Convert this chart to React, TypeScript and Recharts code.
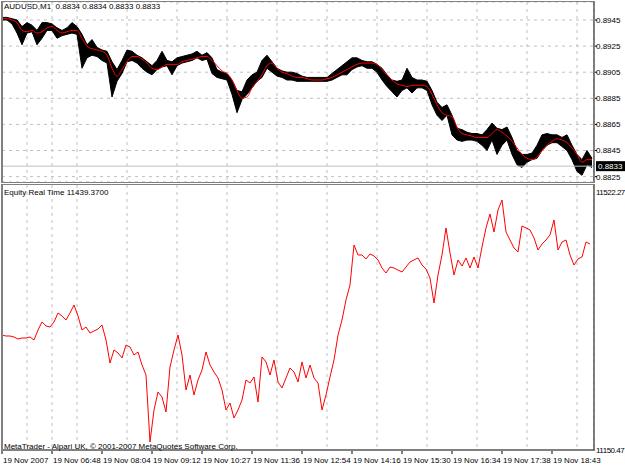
import {
  ComposedChart,
  Area,
  Line,
  XAxis,
  YAxis,
  CartesianGrid,
  ReferenceLine,
} from "recharts";

const FONT = "'Liberation Sans', Arial, sans-serif";

// AUDUSD M1, sampled every 5 bars
const HIGH = [
  0.8947, 0.8947, 0.8946, 0.8945, 0.894, 0.8943, 0.8941, 0.8937, 0.8943, 0.8943,
  0.8942, 0.8939, 0.8937, 0.8939, 0.8943, 0.894, 0.8934, 0.8926, 0.893, 0.8924,
  0.8922, 0.8921, 0.8913, 0.8907, 0.8914, 0.8922, 0.8921, 0.8918, 0.8916, 0.8913,
  0.891, 0.8914, 0.8921, 0.8914, 0.8913, 0.8916, 0.8917, 0.8918, 0.8919, 0.8921,
  0.8918, 0.892, 0.8916, 0.8907, 0.8905, 0.8904, 0.8899, 0.8891, 0.889, 0.8899,
  0.8903, 0.8905, 0.8914, 0.8918, 0.8913, 0.8908, 0.8906, 0.8905, 0.8905, 0.8904,
  0.8902, 0.8901, 0.8901, 0.8901, 0.8901, 0.8901, 0.8904, 0.8907, 0.891, 0.8913,
  0.8916, 0.8916, 0.8914, 0.8913, 0.8913, 0.8911, 0.8908, 0.8903, 0.8899, 0.8898,
  0.8899, 0.8908, 0.8901, 0.8899, 0.8899, 0.8898, 0.8891, 0.8882, 0.8878, 0.888,
  0.8872, 0.8862, 0.8861, 0.8859, 0.8858, 0.8858, 0.8857, 0.8861, 0.8866, 0.8862,
  0.8861, 0.8863, 0.8855, 0.8845, 0.8842, 0.8842, 0.8843, 0.8849, 0.8857, 0.8858,
  0.8857, 0.8857, 0.8855, 0.8857, 0.8849, 0.8842, 0.8838, 0.8845, 0.8839,
];

const LOW = [
  0.8945, 0.8945, 0.8942, 0.8935, 0.8926, 0.8935, 0.8936, 0.8926, 0.8931, 0.8937,
  0.8937, 0.8931, 0.8933, 0.8934, 0.8935, 0.8934, 0.8908, 0.8916, 0.8918, 0.8917,
  0.8914, 0.8912, 0.8886, 0.8898, 0.8904, 0.8913, 0.8914, 0.8912, 0.8908, 0.8905,
  0.8903, 0.8907, 0.8909, 0.891, 0.8903, 0.891, 0.8912, 0.8913, 0.8914, 0.8916,
  0.8914, 0.8915, 0.8904, 0.8901, 0.89, 0.8899, 0.8888, 0.8874, 0.8884, 0.8888,
  0.8893, 0.8898, 0.8901, 0.8908, 0.8905, 0.8902, 0.8901, 0.8899, 0.8899, 0.8898,
  0.8898, 0.8898, 0.8898, 0.8898, 0.8898, 0.8898, 0.8899, 0.8901, 0.8903, 0.8903,
  0.8907, 0.8909, 0.891, 0.8908, 0.8908, 0.8905, 0.8899, 0.8894, 0.889, 0.8886,
  0.8891, 0.8893, 0.8889, 0.8893, 0.8893, 0.8891, 0.888, 0.8872, 0.8868, 0.8872,
  0.8857, 0.8853, 0.8852, 0.8853, 0.8853, 0.8852, 0.8849, 0.8845, 0.8853, 0.8842,
  0.8849, 0.8853, 0.8842, 0.8834, 0.8832, 0.8836, 0.8838, 0.8839, 0.8845, 0.8849,
  0.8851, 0.8851, 0.8848, 0.8845, 0.8838, 0.8829, 0.8826, 0.8834, 0.8832,
];

const MA = [
  0.8946, 0.8946, 0.8945, 0.8943, 0.8937, 0.8936, 0.8937, 0.8935, 0.8936, 0.8939,
  0.894, 0.8937, 0.8935, 0.8936, 0.8937, 0.8937, 0.8931, 0.8925, 0.8923, 0.8922,
  0.8921, 0.8918, 0.8908, 0.8902, 0.8907, 0.8913, 0.8917, 0.8917, 0.8915, 0.8912,
  0.8908, 0.8907, 0.8909, 0.8911, 0.8911, 0.8911, 0.8913, 0.8914, 0.8915, 0.8916,
  0.8917, 0.8917, 0.8914, 0.891, 0.8906, 0.8904, 0.8899, 0.8891, 0.8885, 0.8886,
  0.8893, 0.8898, 0.8903, 0.891, 0.8912, 0.8908, 0.8905, 0.8904, 0.8902, 0.8901,
  0.8901, 0.89, 0.8899, 0.8899, 0.8899, 0.89, 0.8901, 0.8903, 0.8905, 0.8907,
  0.8909, 0.8911, 0.8912, 0.8912, 0.8912, 0.8911, 0.8907, 0.8903, 0.8899, 0.8896,
  0.8895, 0.8894, 0.8895, 0.8895, 0.8895, 0.8894, 0.8888, 0.888, 0.8874, 0.8872,
  0.8871, 0.8863, 0.8858, 0.8857, 0.8856, 0.8855, 0.8855, 0.8855, 0.8858, 0.8861,
  0.8859, 0.8856, 0.8852, 0.8847, 0.8842, 0.8839, 0.8838, 0.884, 0.8845, 0.8849,
  0.8852, 0.8854, 0.8853, 0.8851, 0.8847, 0.8842, 0.8836, 0.8838, 0.8838,
];

// equity, sampled every 4 bars
const EQUITY = [
  11311.8, 11310.4, 11310.4, 11309.0, 11306.2, 11307.6, 11307.6, 11309.0, 11304.8, 11318.8,
  11330.1, 11324.5, 11323.0, 11330.1, 11342.7, 11338.5, 11332.9, 11342.7, 11353.9, 11338.5,
  11318.8, 11323.0, 11314.6, 11317.4, 11320.2, 11325.9, 11304.8, 11272.5, 11290.8, 11286.6,
  11279.6, 11297.8, 11295.0, 11283.8, 11288.0, 11269.7, 11255.7, 11161.7, 11206.6, 11231.9,
  11224.8, 11203.8, 11266.9, 11290.8, 11311.8, 11283.8, 11234.7, 11255.7, 11227.7, 11248.7,
  11262.7, 11288.0, 11269.7, 11259.9, 11251.5, 11234.7, 11206.6, 11216.4, 11195.4, 11206.6,
  11220.6, 11248.7, 11244.5, 11252.9, 11217.8, 11281.0, 11274.0, 11255.7, 11276.8, 11245.9,
  11237.5, 11251.5, 11265.5, 11259.9, 11245.9, 11274.0, 11251.5, 11269.7, 11251.5, 11244.5,
  11206.6, 11227.7, 11252.9, 11276.8, 11311.8, 11332.9, 11361.0, 11382.0, 11438.1, 11424.1,
  11424.1, 11418.5, 11425.5, 11422.7, 11417.1, 11405.8, 11398.8, 11407.2, 11405.8, 11403.0,
  11400.2, 11407.2, 11414.2, 11417.1, 11419.9, 11410.0, 11404.4, 11391.8, 11356.7, 11396.0,
  11424.1, 11462.0, 11426.9, 11396.0, 11417.1, 11408.6, 11419.9, 11405.8, 11421.3, 11405.8,
  11435.3, 11462.0, 11481.6, 11456.3, 11487.2, 11501.2, 11456.3, 11445.1, 11433.9, 11428.3,
  11464.8, 11462.0, 11459.2, 11448.0, 11431.1, 11439.5, 11445.1, 11452.2, 11473.2, 11431.1,
  11442.3, 11445.1, 11424.1, 11410.0, 11418.5, 11421.3, 11442.3, 11439.4,
];

const TIME_LABELS = [
  "19 Nov 2007",
  "19 Nov 06:48",
  "19 Nov 08:04",
  "19 Nov 09:12",
  "19 Nov 10:27",
  "19 Nov 11:36",
  "19 Nov 12:54",
  "19 Nov 14:16",
  "19 Nov 15:30",
  "19 Nov 16:34",
  "19 Nov 17:38",
  "19 Nov 18:43",
];

const PRICE_TICKS = [0.8825, 0.8845, 0.8865, 0.8885, 0.8905, 0.8925, 0.8945];
const PRICE_DOMAIN = [0.882086, 0.895879];
const EQUITY_RANGE = [11150.47, 11522.27];
const LAST_PRICE = 0.8833;
const LAST_BAR = 592;

const topData = HIGH.map((h, i) => ({ bar: i * 5, range: [LOW[i], h], ma: MA[i] }));
const equityData = EQUITY.map((v, i) => ({ bar: i * 4, equity: v }));
const timeTicks = TIME_LABELS.map((_, i) => i * 50);
const gridTicks = Array.from({ length: 23 }, (_, i) => (i + 1) * 25);

const txt = { fontFamily: FONT, fontSize: 8, fill: "#000" };

const LastPriceLabel = (props: any) => {
  const vb = props.viewBox;
  const x = vb.x + vb.width + 2;
  return (
    <g>
      <rect x={x} y={vb.y - 5} width={29} height={10} fill="#000" />
      <text x={x + 2} y={vb.y + 3} {...txt} fill="#fff">
        {LAST_PRICE.toFixed(4)}
      </text>
    </g>
  );
};

const PriceTick = (props: any) => {
  const { x, y, payload } = props;
  return (
    <text x={x - 1} y={y} dy={3} {...txt} textAnchor="start">
      {payload.value.toFixed(4)}
    </text>
  );
};

const TimeTick = (props: any) => {
  const { x, y, payload } = props;
  return (
    <text x={x + 1} y={y} dy={9} {...txt} textAnchor="start">
      {TIME_LABELS[timeTicks.indexOf(payload.value)]}
    </text>
  );
};

const EquityTick = (props: any) => {
  const { x, y, payload, index } = props;
  return (
    <text x={x} y={y} dy={index === 0 ? 3 : 10} {...txt} letterSpacing={-0.5} textAnchor="start">
      {payload.value.toFixed(2)}
    </text>
  );
};

const Caption = ({ top, children }: { top: number; children: string }) => (
  <div
    style={{
      position: "absolute",
      left: 4,
      top,
      font: `8px ${FONT}`,
      lineHeight: "10px",
      whiteSpace: "pre",
      color: "#000",
    }}
  >
    {children}
  </div>
);

export default function App() {
  return (
    <div style={{ position: "absolute", left: 0, top: 0, width: 625, height: 469, background: "#fff", overflow: "hidden" }}>
      <div style={{ position: "absolute", left: 0, top: 0 }}>
        <ComposedChart width={625} height={184} data={topData} margin={{ top: 2, right: 0, bottom: 2, left: 2 }}>
          <CartesianGrid stroke="#c0c0c0" strokeDasharray="3 4" />
          <XAxis type="number" dataKey="bar" domain={[0, LAST_BAR]} ticks={gridTicks} hide allowDataOverflow />
          <YAxis
            orientation="right"
            type="number"
            width={31}
            domain={PRICE_DOMAIN}
            ticks={PRICE_TICKS}
            interval={0}
            allowDataOverflow
            tick={<PriceTick />}
            tickSize={3}
            tickMargin={0}
            tickLine={{ stroke: "#000" }}
            axisLine={{ stroke: "#000" }}
          />
          <ReferenceLine y={LAST_PRICE} stroke="#c0c0c0" label={<LastPriceLabel />} />
          <Area
            type="linear"
            dataKey="range"
            stroke="#000"
            strokeWidth={1}
            fill="#000"
            fillOpacity={1}
            isAnimationActive={false}
          />
          <Line type="monotone" dataKey="ma" stroke="#ff0000" strokeWidth={1} dot={false} isAnimationActive={false} />
        </ComposedChart>
      </div>
      <div style={{ position: "absolute", left: 0, top: 184 }}>
        <ComposedChart width={625} height={285} data={equityData} margin={{ top: 1, right: 0, bottom: 0, left: 2 }}>
          <XAxis xAxisId="grid" type="number" dataKey="bar" domain={[0, LAST_BAR]} ticks={gridTicks} hide allowDataOverflow />
          <CartesianGrid xAxisId="grid" horizontal={false} stroke="#c0c0c0" strokeDasharray="3 4" />
          <XAxis
            type="number"
            dataKey="bar"
            domain={[0, LAST_BAR]}
            ticks={timeTicks}
            interval={0}
            allowDataOverflow
            height={19}
            tick={<TimeTick />}
            tickSize={4}
            tickMargin={0}
            tickLine={{ stroke: "#000" }}
            axisLine={{ stroke: "#000" }}
          />
          <YAxis
            orientation="right"
            type="number"
            width={31}
            domain={EQUITY_RANGE}
            ticks={EQUITY_RANGE}
            interval={0}
            allowDataOverflow
            tick={<EquityTick />}
            tickSize={2}
            tickMargin={0}
            tickLine={false}
            axisLine={{ stroke: "#000" }}
          />
          <Line type="linear" dataKey="equity" stroke="#ff0000" strokeWidth={1} dot={false} isAnimationActive={false} />
        </ComposedChart>
      </div>
      <div style={{ position: "absolute", left: 1, top: 1, width: 594, height: 182, boxSizing: "border-box", border: "1px solid #808080", borderLeftWidth: 2 }} />
      <div style={{ position: "absolute", left: 1, top: 184, width: 594, height: 267, boxSizing: "border-box", border: "1px solid #808080", borderLeftWidth: 2 }} />
      <Caption top={2}>{"AUDUSD,M1  0.8834 0.8834 0.8833 0.8833"}</Caption>
      <Caption top={188}>{"Equity Real Time 11439.3700"}</Caption>
      <Caption top={442}>{"MetaTrader - Alpari UK, © 2001-2007 MetaQuotes Software Corp."}</Caption>
    </div>
  );
}
